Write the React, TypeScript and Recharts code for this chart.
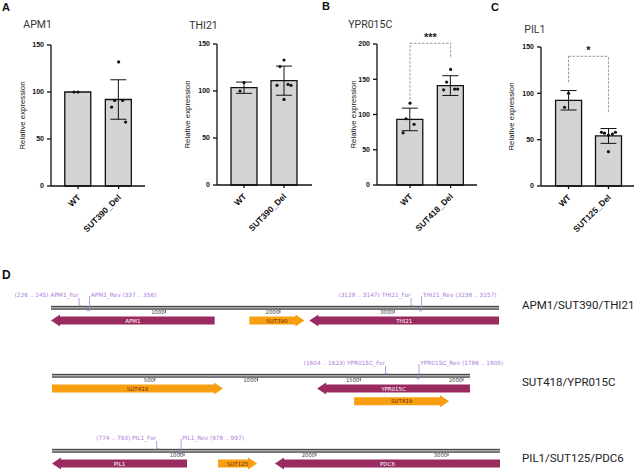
import React from "react";
import { Bar, ComposedChart, ErrorBar, ReferenceLine, Scatter, XAxis, YAxis } from "recharts";

// ---- A–C: relative expression (qPCR) ----
const APM1_GROUPS = ["WT", "SUT390_Del"];
const APM1_MEANS = [100, 92];
const APM1_SD = [0, 21];
const APM1_POINTS = [[100, 100], [132, 91, 91, 84, 68]];

const THI21_GROUPS = ["WT", "SUT390_Del"];
const THI21_MEANS = [103.5, 111];
const THI21_SD = [6, 15.5];
const THI21_POINTS = [[109, 100], [133, 126, 107, 106, 106, 91]];

const YPR015C_GROUPS = ["WT", "SUT418_Del"];
const YPR015C_MEANS = [93, 141];
const YPR015C_SD = [16, 14];
const YPR015C_POINTS = [[116, 94, 86, 74], [164, 146, 136, 135, 136]];

const PIL1_GROUPS = ["WT", "SUT125_Del"];
const PIL1_MEANS = [92.5, 54];
const PIL1_SD = [10.5, 8];
const PIL1_POINTS = [[100, 85], [55, 57, 56, 58, 58, 37]];

const Y_TICKS_150 = [0, 50, 100, 150];
const Y_TICKS_200 = [0, 50, 100, 150, 200];

// significance brackets: leg bottoms (WT, mutant), top, label
const YPR015C_BRACKET = { legs: [121, 182], top: 201, label: "***" };
const PIL1_BRACKET = { legs: [112, 80], top: 140, label: "*" };

// ---- D: locus maps ----
const LOCUS1_NAME = "APM1/SUT390/THI21";
const LOCUS1_LENGTH = 3915;
const LOCUS1_TICKS = [1000, 2000, 3000];
const LOCUS1_GENES = [
  { name: "APM1", start: 0, end: 1430, strand: -1, type: "orf", row: 2 },
  { name: "SUT390", start: 1733, end: 2215, strand: 1, type: "sut", row: 2 },
  { name: "THI21", start: 2258, end: 3915, strand: -1, type: "orf", row: 2 },
];
const LOCUS1_PRIMERS = [
  { name: "APM1_For", start: 226, end: 245, strand: 1 },
  { name: "APM1_Rev", start: 337, end: 356, strand: -1 },
  { name: "THI21_For", start: 3128, end: 3147, strand: 1 },
  { name: "THI21_Rev", start: 3238, end: 3257, strand: -1 },
];

const LOCUS2_NAME = "SUT418/YPR015C";
const LOCUS2_LENGTH = 2034;
const LOCUS2_TICKS = [500, 1000, 1500, 2000];
const LOCUS2_GENES = [
  { name: "SUT418", start: 0, end: 832, strand: 1, type: "sut", row: 2 },
  { name: "YPR015C", start: 1290, end: 2034, strand: -1, type: "orf", row: 2 },
  { name: "SUT419", start: 1470, end: 1932, strand: 1, type: "sut", row: 3 },
];
const LOCUS2_PRIMERS = [
  { name: "YPR015C_For", start: 1604, end: 1623, strand: 1 },
  { name: "YPR015C_Rev", start: 1786, end: 1805, strand: -1 },
];

const LOCUS3_NAME = "PIL1/SUT125/PDC6";
const LOCUS3_LENGTH = 3394;
const LOCUS3_TICKS = [1000, 2000, 3000];
const LOCUS3_GENES = [
  { name: "PIL1", start: 0, end: 1023, strand: -1, type: "orf", row: 2 },
  { name: "SUT125", start: 1258, end: 1553, strand: 1, type: "sut", row: 2 },
  { name: "PDC6", start: 1689, end: 3394, strand: -1, type: "orf", row: 2 },
];
const LOCUS3_PRIMERS = [
  { name: "PIL1_For", start: 774, end: 793, strand: 1 },
  { name: "PIL1_Rev", start: 978, end: 997, strand: -1 },
];

const JITTER = [0, -4, 4, -7, 7, 0];
const ROW_PX = 12.75;
const ORF_COLOR = "#9a2b61";
const SUT_COLOR = "#f79f10";
const PRIMER_COLOR = "#ad7ddb";

function Dot(props: any) {
  const { cx, cy, payload } = props;
  if (cx == null || cy == null) return null;
  return <circle cx={cx + JITTER[payload.k % JITTER.length]} cy={cy} r={1.6} fill="#111" />;
}

// group names at 45°, ending just under the tick
function GroupTick(props: any) {
  const { x, y, payload, groups } = props;
  return (
    <g transform={`translate(${Number(x) + 3},${Number(y) + 7})`}>
      <text x={0} y={0} transform="rotate(-45)" textAnchor="end" fontSize={8.5} fontWeight={700} fill="#111">
        {groups[payload.value]}
      </text>
    </g>
  );
}

function ExpressionChart(props: any) {
  const { title, groups, means, sd, points, yTicks, bracket, frame } = props;
  const bars = groups.map((g: string, i: number) => ({ x: i, mean: means[i], sd: sd[i] }));
  const dots = points.flatMap((vals: number[], g: number) => vals.map((v, k) => ({ x: g, value: v, k })));
  const dash = { stroke: "#888", strokeWidth: 0.9, strokeDasharray: "2.5 1.5", ifOverflow: "visible" as const };
  return (
    <div style={{ position: "absolute", left: frame.left, top: 0, width: frame.width, height: 250, fontFamily: "'Liberation Sans', Arial, sans-serif" }}>
      <div style={{ position: "absolute", left: frame.titleX, top: frame.titleY - 5.1, fontFamily: "Roboto", fontSize: 10.5, lineHeight: "10px", color: "#333", whiteSpace: "nowrap" }}>{title}</div>
      <ComposedChart width={frame.width} height={250} data={bars} margin={{ top: frame.top, right: frame.right, bottom: 0, left: 0 }}>
        <XAxis
          type="number"
          dataKey="x"
          domain={frame.xDomain}
          allowDataOverflow
          ticks={[0, 1]}
          interval={0}
          height={250 - frame.bottom}
          tickSize={3}
          tickMargin={2}
          axisLine={{ stroke: "#111", strokeWidth: 1.3 }}
          tickLine={{ stroke: "#111", strokeWidth: 1.3 }}
          tick={(p: any) => <GroupTick {...p} groups={groups} />}
        />
        <YAxis
          type="number"
          domain={[0, yTicks[yTicks.length - 1]]}
          ticks={yTicks}
          interval={0}
          width={frame.axisX}
          tickSize={4}
          tickMargin={3}
          axisLine={{ stroke: "#111", strokeWidth: 1.3 }}
          tickLine={{ stroke: "#111", strokeWidth: 1.3 }}
          tick={{ fill: "#111", fontSize: 7, fontWeight: 700 }}
          label={{ value: "Relative expression", angle: -90, position: "insideLeft", offset: frame.labelX, style: { textAnchor: "middle", fontSize: 7.8, fill: "#111" } }}
        />
        <Bar dataKey="mean" barSize={26} fill="#d4d4d4" stroke="#111" strokeWidth={1.3} isAnimationActive={false}>
          <ErrorBar dataKey="sd" width={8} stroke="#111" strokeWidth={1} />
        </Bar>
        <Scatter data={dots} dataKey="value" shape={Dot} isAnimationActive={false} />
        {bracket && <ReferenceLine segment={[{ x: 0, y: bracket.legs[0] }, { x: 0, y: bracket.top }]} {...dash} />}
        {bracket && <ReferenceLine segment={[{ x: 1, y: bracket.legs[1] }, { x: 1, y: bracket.top }]} {...dash} />}
        {bracket && (
          <ReferenceLine
            segment={[{ x: 0, y: bracket.top }, { x: 1, y: bracket.top }]}
            {...dash}
            label={{ value: bracket.label, position: "top", offset: 2, fill: "#222", fontSize: 11, fontWeight: 700 }}
          />
        )}
      </ComposedChart>
    </div>
  );
}

function BpTick(props: any) {
  const { x, y, payload } = props;
  const by = y + ROW_PX * 1.5;
  return (
    <g>
      <line x1={x} x2={x} y1={by + 1.8} y2={by + 5} stroke="#333" strokeWidth={0.8} />
      <text x={x - 0.8} y={by + 6.3} textAnchor="end" fontSize={5.3} fill="#444">{payload.value}</text>
    </g>
  );
}

function FeatureShape(props: any) {
  const { x, y, width, height, payload } = props;
  if (x == null || payload == null) return null;
  const cy = y + height / 2;
  const x2 = x + width;
  if (payload.kind === "backbone") {
    return (
      <g>
        <rect x={x} y={cy - 1.4} width={width} height={2.8} fill="#aaa" />
        <line x1={x} x2={x2} y1={cy - 1.4} y2={cy - 1.4} stroke="#333" strokeWidth={1} />
        <line x1={x} x2={x2} y1={cy + 1.4} y2={cy + 1.4} stroke="#333" strokeWidth={1} />
      </g>
    );
  }
  if (payload.kind === "primer") {
    const fwd = payload.strand > 0;
    const xa = fwd ? x2 : x;
    const bb = cy + ROW_PX;
    const d = fwd ? `M${xa},${cy + 3} V${bb - 2} H${xa + 2.5}` : `M${xa},${cy + 1} V${bb + 3} H${xa - 2.5}`;
    return (
      <g>
        <path d={d} fill="none" stroke={PRIMER_COLOR} strokeWidth={0.8} />
        <text x={fwd ? xa - 0.5 : xa + 1.2} y={cy + 2} textAnchor={fwd ? "end" : "start"} fontSize={5.8} fill={PRIMER_COLOR}>
          {payload.label}
        </text>
      </g>
    );
  }
  const fill = payload.kind === "sut" ? SUT_COLOR : ORF_COLOR;
  const bh = 4;
  const hh = 6;
  const hl = Math.min(9, width * 0.4);
  let pts: number[][];
  if (payload.strand > 0) {
    pts = [[x, cy - bh], [x2 - hl, cy - bh], [x2 - hl, cy - hh], [x2, cy], [x2 - hl, cy + hh], [x2 - hl, cy + bh], [x, cy + bh]];
  } else {
    pts = [[x2, cy - bh], [x + hl, cy - bh], [x + hl, cy - hh], [x, cy], [x + hl, cy + hh], [x + hl, cy + bh], [x2, cy + bh]];
  }
  return (
    <g>
      <polygon points={pts.map((p) => p.join(",")).join(" ")} fill={fill} />
      <text x={x + width / 2} y={cy + 2} textAnchor="middle" fontSize={5.5} fill={payload.kind === "sut" ? "#6e2a0c" : "#fff"}>
        {payload.name}
      </text>
    </g>
  );
}

function LocusChart(props: any) {
  const { name, length, ticks, genes, primers, frame } = props;
  const features = [
    { kind: "backbone", row: 1, span: [0, length] },
    ...primers.map((p: any) => ({
      kind: "primer",
      row: 0,
      span: [p.start, p.end],
      strand: p.strand,
      label: p.strand > 0 ? `(${p.start} .. ${p.end}) ${p.name}` : `${p.name} (${p.start} .. ${p.end})`,
    })),
    ...genes.map((g: any) => ({ kind: g.type, row: g.row, span: [g.start, g.end], strand: g.strand, name: g.name })),
  ];
  const h = 8 + ROW_PX * 4 + 4;
  return (
    <>
      <div style={{ position: "absolute", left: 0, top: frame.plotTop - 8, width: 642, height: h, fontFamily: "'DejaVu Sans', sans-serif" }}>
        <ComposedChart layout="vertical" width={642} height={h} data={features} margin={{ top: 7, right: 642 - frame.right, bottom: 4, left: frame.left }}>
          <XAxis
            type="number"
            domain={[0, length]}
            ticks={ticks}
            interval={0}
            orientation="top"
            height={1}
            axisLine={false}
            tickLine={false}
            tickSize={0}
            tickMargin={0}
            tick={(p: any) => <BpTick {...p} />}
          />
          <YAxis type="number" dataKey="row" domain={[-0.5, 3.5]} hide />
          <Bar dataKey="span" barSize={8} shape={FeatureShape} isAnimationActive={false} />
        </ComposedChart>
      </div>
      <div style={{ position: "absolute", left: 522, top: frame.labelY - 5.84, fontFamily: "Roboto", fontSize: 11.5, lineHeight: "12px", color: "#222", whiteSpace: "nowrap" }}>{name}</div>
    </>
  );
}

const letter = (t: string, left: number, top: number, size = 11) => (
  <div style={{ position: "absolute", left, top, fontFamily: "'Liberation Sans', Arial, sans-serif", fontWeight: 700, fontSize: size, lineHeight: `${size}px`, color: "#111" }}>{t}</div>
);

export default function App() {
  return (
    <div style={{ position: "absolute", left: 0, top: 0, width: 642, height: 471, background: "#fff", overflow: "hidden" }}>
      {letter("A", 2, 1.6)}
      {letter("B", 322, 0.6)}
      {letter("C", 491, 1.6)}
      {letter("D", 2, 268.6, 12)}
      <ExpressionChart
        title="APM1" groups={APM1_GROUPS} means={APM1_MEANS} sd={APM1_SD} points={APM1_POINTS} yTicks={Y_TICKS_150}
        frame={{ left: 0, width: 160, axisX: 51, top: 45, bottom: 186, right: 15, xDomain: [-0.667, 1.65], labelX: 22, titleX: 23.3, titleY: 25.3 }}
      />
      <ExpressionChart
        title="THI21" groups={THI21_GROUPS} means={THI21_MEANS} sd={THI21_SD} points={THI21_POINTS} yTicks={Y_TICKS_150}
        frame={{ left: 160, width: 160, axisX: 57, top: 44, bottom: 185, right: 8, xDomain: [-0.675, 1.7], labelX: 27, titleX: 29.3, titleY: 26 }}
      />
      <ExpressionChart
        title="YPR015C" groups={YPR015C_GROUPS} means={YPR015C_MEANS} sd={YPR015C_SD} points={YPR015C_POINTS} yTicks={Y_TICKS_200} bracket={YPR015C_BRACKET}
        frame={{ left: 320, width: 170, axisX: 57, top: 44, bottom: 185, right: 13, xDomain: [-0.815, 1.65], labelX: 33, titleX: 28.3, titleY: 25 }}
      />
      <ExpressionChart
        title="PIL1" groups={PIL1_GROUPS} means={PIL1_MEANS} sd={PIL1_SD} points={PIL1_POINTS} yTicks={Y_TICKS_150} bracket={PIL1_BRACKET}
        frame={{ left: 490, width: 152, axisX: 51, top: 47, bottom: 186, right: 8, xDomain: [-0.69, 1.64], labelX: 21, titleX: 34.3, titleY: 29.7 }}
      />
      <LocusChart name={LOCUS1_NAME} length={LOCUS1_LENGTH} ticks={LOCUS1_TICKS} genes={LOCUS1_GENES} primers={LOCUS1_PRIMERS}
        frame={{ plotTop: 288.6, left: 51, right: 499, labelY: 305 }} />
      <LocusChart name={LOCUS2_NAME} length={LOCUS2_LENGTH} ticks={LOCUS2_TICKS} genes={LOCUS2_GENES} primers={LOCUS2_PRIMERS}
        frame={{ plotTop: 356.9, left: 52, right: 470, labelY: 382 }} />
      <LocusChart name={LOCUS3_NAME} length={LOCUS3_LENGTH} ticks={LOCUS3_TICKS} genes={LOCUS3_GENES} primers={LOCUS3_PRIMERS}
        frame={{ plotTop: 431.9, left: 52, right: 500, labelY: 458 }} />
    </div>
  );
}
